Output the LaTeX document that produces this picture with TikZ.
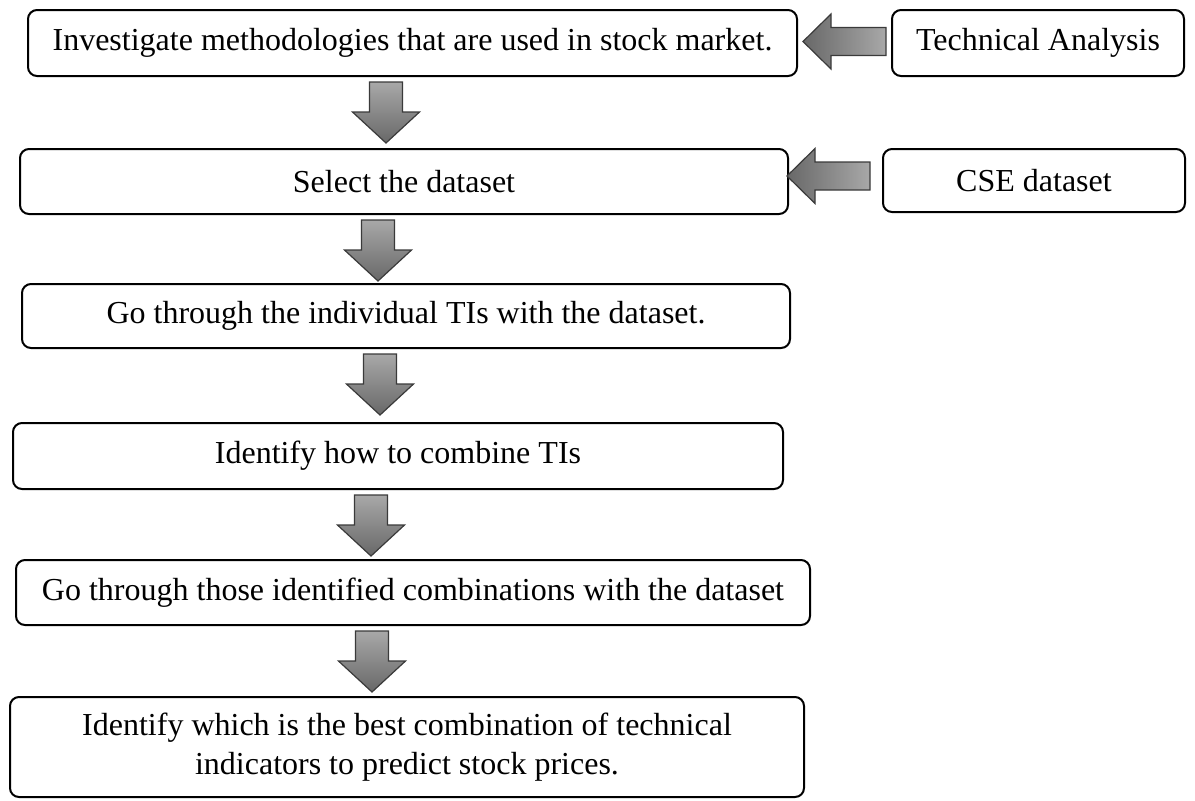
\documentclass[tikz,border=0pt]{standalone}
\usepackage{fontspec}
\setmainfont{Liberation Serif}
\usetikzlibrary{calc,positioning}

\definecolor{arrowlight}{HTML}{A8A8A8}
\definecolor{arrowdark}{HTML}{686868}
\definecolor{arrowline}{HTML}{3A3A3A}

\tikzset{
  stepbox/.style={draw,line width=1pt,rounded corners=4.5pt,align=center,inner sep=0pt},
  fatarrow/.style={draw=arrowline,line width=0.6pt},
  downblock/.pic={
    \shade[fatarrow,top color=arrowlight,bottom color=arrowdark]
      (-16.5,5) -- (16.5,5) -- (16.5,35) -- (33.5,35) -- (0,66)
      -- (-33.5,35) -- (-16.5,35) -- cycle;
  },
  leftblock/.pic={
    \shade[fatarrow,left color=arrowdark,right color=arrowlight]
      (0,-14) -- (-55,-14) -- (-55,-27.5) -- (-83,0) -- (-55,27.5)
      -- (-55,14) -- (0,14) -- cycle;
  }
}

\begin{document}
\begin{tikzpicture}[x=0.5pt,y=-0.5pt,every node/.style={font=\fontsize{16}{19.5}\selectfont}]
  \useasboundingbox (0,0) rectangle (1195,800);

  % main steps
  \node[stepbox,minimum width=384.5pt,minimum height=33pt] (investigate) at (412.5,43)
    {Investigate methodologies that are used in stock market.};
  \node[stepbox,minimum width=384pt,minimum height=32.5pt] (dataset) at (404,181.5)
    {Select the dataset};
  \node[stepbox,minimum width=384pt,minimum height=32pt] (individual) at (406,316)
    {Go through the individual TIs with the dataset.};
  \node[stepbox,minimum width=385pt,minimum height=33pt] (combine) at (398,456)
    {Identify how to combine TIs};
  \node[stepbox,minimum width=397pt,minimum height=32.5pt] (combinations) at (413,592.5)
    {Go through those identified combinations with the dataset};
  \node[stepbox,minimum width=397pt,minimum height=50pt] (best) at (407,747)
    {Identify which is the best combination of technical\\indicators to predict stock prices.};

  % inputs on the right
  \node[stepbox,minimum width=146pt,minimum height=33pt] (ta) at (1038,43) {Technical Analysis};
  \node[stepbox,minimum width=151pt,minimum height=31.5pt] (cse) at (1034,180.5) {CSE dataset};

  % block arrows
  \foreach \col/\from in {386/investigate,378/dataset,380/individual,371/combine,372/combinations} {
    \coordinate (col) at (\col,0);
    \pic at (\from.south -| col) {downblock};
  }
  \pic at ($(ta.west)+(-5,-1.5)$) {leftblock};
  \pic at ($(cse.west)+(-12,-4.5)$) {leftblock};
\end{tikzpicture}
\end{document}
